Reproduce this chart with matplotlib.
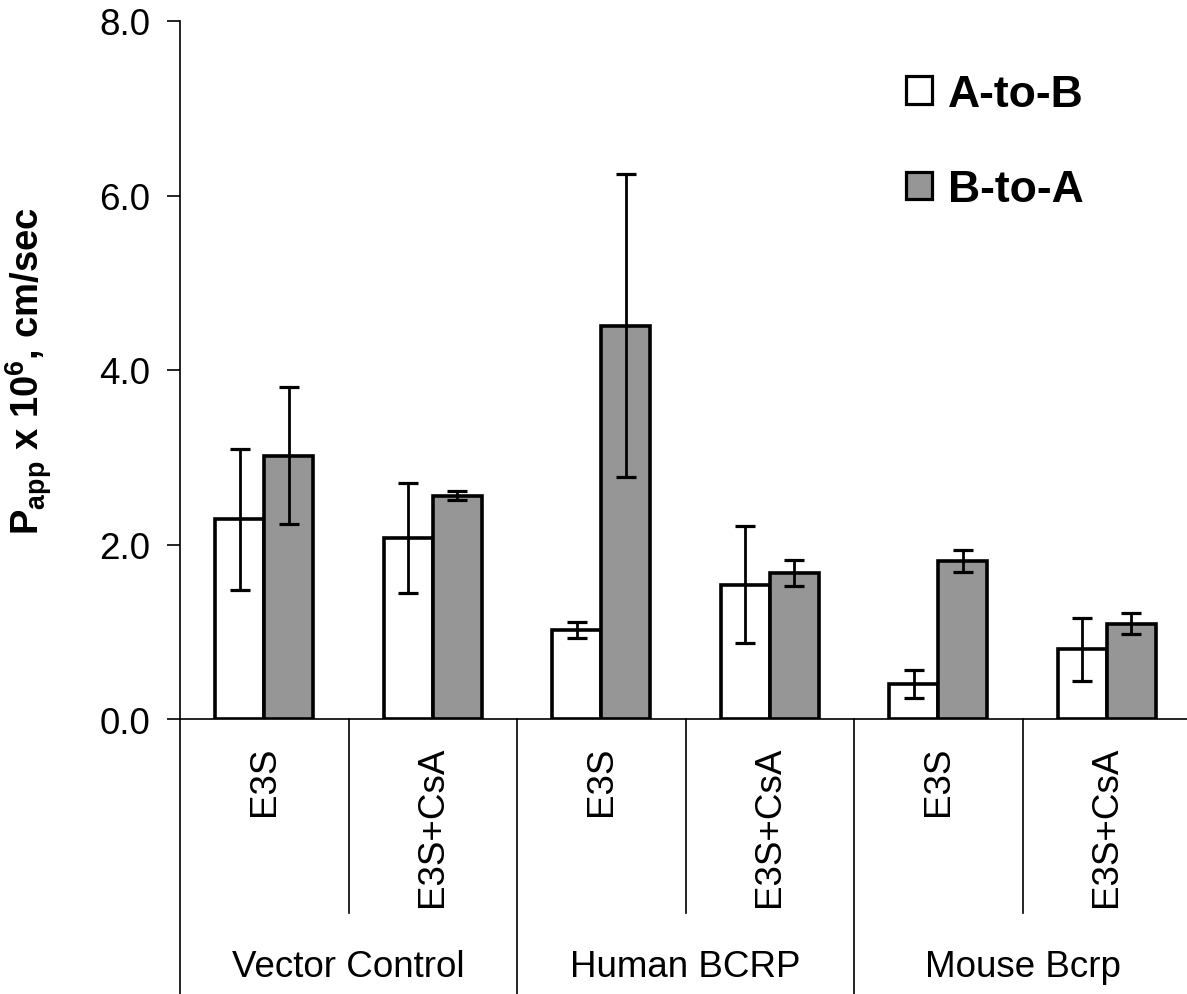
import numpy as np
import matplotlib
matplotlib.use("Agg")
import matplotlib.pyplot as plt
from matplotlib.patches import Patch

plt.rcParams['font.family'] = ['Liberation Sans', 'DejaVu Sans']
plt.rcParams['mathtext.fontset'] = 'custom'
plt.rcParams['mathtext.rm'] = 'Liberation Sans:bold'
plt.rcParams['mathtext.bf'] = 'Liberation Sans:bold'
plt.rcParams['mathtext.it'] = 'Liberation Sans:bold'
plt.rcParams['mathtext.default'] = 'bf'

groups = ["Vector Control", "Human BCRP", "Mouse Bcrp"]
conditions = ["E3S", "E3S+CsA", "E3S", "E3S+CsA", "E3S", "E3S+CsA"]
a_to_b = [2.29, 2.07, 1.02, 1.54, 0.40, 0.80]
a_to_b_err = [0.81, 0.63, 0.09, 0.67, 0.165, 0.36]
b_to_a = [3.02, 2.56, 4.51, 1.67, 1.81, 1.09]
b_to_a_err = [0.79, 0.05, 1.74, 0.15, 0.13, 0.12]
series_labels = ["A-to-B", "B-to-A"]
y_ticks = [0.0, 2.0, 4.0, 6.0, 8.0]

W, H = 1187, 995
fig = plt.figure(figsize=(W / 100, H / 100), dpi=100)
ax = fig.add_axes([180 / W, (H - 720) / H, 1011 / W, 698 / H])

n = len(conditions)
x = np.arange(n) + 0.5
bw = 0.29
col_a, col_b = 'white', '#969696'
ax.bar(x - bw / 2, a_to_b, width=bw, color=col_a, edgecolor='black', linewidth=2.6, zorder=2)
ax.bar(x + bw / 2, b_to_a, width=bw, color=col_b, edgecolor='black', linewidth=2.6, zorder=2)
ax.errorbar(x - bw / 2, a_to_b, yerr=a_to_b_err, fmt='none', ecolor='black',
            elinewidth=2.0, capsize=7, capthick=2.3, zorder=3)
ax.errorbar(x + bw / 2, b_to_a, yerr=b_to_a_err, fmt='none', ecolor='black',
            elinewidth=2.0, capsize=7, capthick=2.3, zorder=3)

ax.set_xlim(0, n)
ax.set_ylim(0, 8)
ax.set_yticks(y_ticks)
ax.set_yticklabels([f"{v:.1f}" for v in y_ticks], fontsize=26.5)
ax.tick_params(axis='y', direction='out', length=9.4, width=1.2, pad=12)
ax.set_xticks([])
for s in ['top', 'right']:
    ax.spines[s].set_visible(False)
ax.spines['left'].set_linewidth(1.2)
ax.spines['bottom'].set_linewidth(1.2)

tr = ax.get_xaxis_transform()
# separators below the axis
for i in range(n + 1):
    if i % 2 == 0:
        y_end = -(995 - 720) / 698
    else:
        y_end = -(914 - 720) / 698
    ax.plot([i, i], [0, y_end], color='black', lw=1.2, transform=tr, clip_on=False)

for xi, lab in zip(x, conditions):
    ax.text(xi, -(747 - 720) / 698, lab, rotation=90, ha='center', va='top',
            fontsize=26.5, transform=tr)
for gi, g in enumerate(groups):
    ax.text(2 * gi + 1, -(977 - 720) / 698, g, ha='center', va='baseline',
            fontsize=26.5, transform=tr)

ax.set_ylabel(r"P$_{app}$ x 10$^{6}$, cm/sec", fontsize=27.5, fontweight='bold', va='center')
ax.yaxis.set_label_coords((29 - 180) / 1011, (720 - 371) / 698)

handles = [Patch(facecolor=col_a, edgecolor='black', linewidth=2.3),
           Patch(facecolor=col_b, edgecolor='black', linewidth=2.3)]
leg = ax.legend(handles, series_labels, loc='upper left',
                bbox_to_anchor=(906 / W, (H - 75) / H), bbox_transform=fig.transFigure,
                frameon=False, prop={'weight': 'bold', 'size': 32},
                handlelength=0.58, handleheight=0.58, handletextpad=0.36,
                labelspacing=1.22, borderpad=0, borderaxespad=0)

fig.savefig("out.png", dpi=100)
